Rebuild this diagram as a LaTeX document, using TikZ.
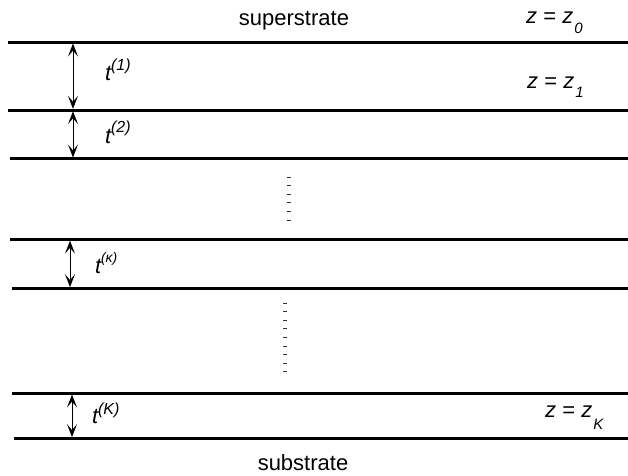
\documentclass[tikz,border=0pt]{standalone}
\usepackage{fontspec}
\setmainfont{Liberation Sans}
\usetikzlibrary{arrows.meta}
\newcommand\zlab[2]{\textit{z} = \textit{z}\kern1pt\raisebox{#2}{\fontsize{15}{15}\selectfont\textit{#1}}}
\newcommand\tlab[3]{\textit{t}\kern-1pt\raisebox{#2}{\fontsize{#3}{#3}\selectfont\textit{(#1)}}}
\begin{document}
\begin{tikzpicture}[x=1pt,y=-1pt,
  layerline/.style={line width=3pt},
  dimarrow/.style={line width=0.9pt,shorten <=1.2pt,shorten >=1.2pt,
    {Stealth[length=13pt,width=10pt,inset=6pt]}-{Stealth[length=13pt,width=10pt,inset=6pt]}},
  lbl/.style={inner sep=0pt,font=\fontsize{22}{26}\selectfont},
  dotmark/.style={line width=1pt,black!80}]
\useasboundingbox (0,0) rectangle (628,475);
% layer boundaries
\coordinate (L1a) at (8,42.3);    \coordinate (L1b) at (628,42.3);
\coordinate (L2a) at (8,110);     \coordinate (L2b) at (628,110);
\coordinate (L3a) at (10,158.7);  \coordinate (L3b) at (628,158.7);
\coordinate (L4a) at (10,239.5);  \coordinate (L4b) at (628,239.5);
\coordinate (L5a) at (12,288.3);  \coordinate (L5b) at (628,288.3);
\coordinate (L6a) at (12,393.3);  \coordinate (L6b) at (628,393.3);
\coordinate (L7a) at (14,438.3);  \coordinate (L7b) at (628,438.3);
\foreach \i in {1,...,7} \draw[layerline] (L\i a) -- (L\i b);
% thickness arrows
\coordinate (A1t) at (73,42.3);  \coordinate (A1b) at (73,110);
\coordinate (A2t) at (73,110);   \coordinate (A2b) at (73,158.7);
\coordinate (A3t) at (70,239.5); \coordinate (A3b) at (70,288.3);
\coordinate (A4t) at (72,393.3); \coordinate (A4b) at (72,438.3);
\foreach \i in {1,...,4} \draw[dimarrow] (A\i t) -- (A\i b);
% ellipsis dots
\foreach \i in {0,...,5} \draw[dotmark] (287,{177+8.6*\i}) -- ++(4,0);
\foreach \i in {0,...,8} \draw[dotmark] (283,{303+8.6*\i}) -- ++(4,0);
% labels
\node[lbl,anchor=base] (sup) at (294,25) {superstrate};
\node[lbl,anchor=base] (sub) at (303,470) {substrate};
\node[lbl,anchor=base west] (z0) at (526,23) {\zlab{0}{-10pt}};
\node[lbl,anchor=base west] (z1) at (527,88) {\zlab{1}{-9pt}};
\node[lbl,anchor=base west] (zK) at (545,417) {\zlab{K}{-12pt}};
\node[lbl,anchor=base west] (t1) at (105,80) {\tlab{1}{10pt}{16}};
\node[lbl,anchor=base west] (t2) at (105,143) {\tlab{2}{11pt}{16}};
\node[lbl,anchor=base west] (tk) at (95,273) {\tlab{κ}{11pt}{14}};
\node[lbl,anchor=base west] (tK) at (92,423) {\tlab{K}{9pt}{16}};
\end{tikzpicture}
\end{document}
